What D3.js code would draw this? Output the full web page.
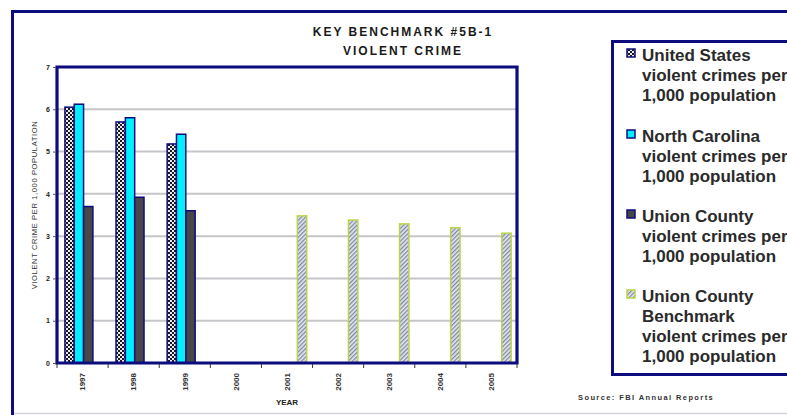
<!DOCTYPE html>
<html>
<head>
<meta charset="utf-8">
<script src="https://cdn.jsdelivr.net/npm/d3@7"></script>
<style>
  html, body { margin: 0; padding: 0; background: #fff; }
  svg { display: block; font-family: Arial, "Liberation Sans", sans-serif; }
</style>
</head>
<body>
<svg id="chart" width="787" height="415"></svg>
<script>
// ---------------- data ----------------
const years = ["1997", "1998", "1999", "2000", "2001", "2002", "2003", "2004", "2005"];
const usRate = [6.05, 5.70, 5.18, null, null, null, null, null, null];
const ncRate = [6.12, 5.80, 5.41, null, null, null, null, null, null];
const unionRate = [3.70, 3.92, 3.60, null, null, null, null, null, null];
const benchmarkRate = [null, null, null, null, 3.48, 3.38, 3.29, 3.20, 3.07];
const yTicks = [0, 1, 2, 3, 4, 5, 6, 7];
const seriesKeys = ["us", "nc", "union", "bench"];
const legendLabels = [
  ["United States", "violent crimes per", "1,000 population"],
  ["North Carolina", "violent crimes per", "1,000 population"],
  ["Union County", "violent crimes per", "1,000 population"],
  ["Union County", "Benchmark", "violent crimes per", "1,000 population"]
];
const titleLines = ["KEY BENCHMARK #5B-1", "VIOLENT CRIME"];
const yAxisTitle = "VIOLENT CRIME PER 1,000 POPULATION";
const xAxisTitle = "YEAR";
const sourceText = "Source:  FBI Annual Reports";

// ---------------- setup ----------------
const navy = "#0c0c7e";
const svg = d3.select("#chart");
const defs = svg.append("defs");

// checkered pattern (United States)
const pChk = defs.append("pattern").attr("id", "chk").attr("patternUnits", "userSpaceOnUse")
  .attr("width", 4).attr("height", 4);
pChk.append("rect").attr("width", 4).attr("height", 4).attr("fill", "#e8e8ee");
pChk.append("rect").attr("x", 0).attr("y", 0).attr("width", 2).attr("height", 2).attr("fill", "#1a1a1a");
pChk.append("rect").attr("x", 2).attr("y", 2).attr("width", 2).attr("height", 2).attr("fill", "#1a1a1a");

// diagonal hatch (Benchmark)
const pHatch = defs.append("pattern").attr("id", "hatch").attr("patternUnits", "userSpaceOnUse")
  .attr("width", 3).attr("height", 3).attr("patternTransform", "rotate(45)");
pHatch.append("rect").attr("width", 3).attr("height", 3).attr("fill", "#e6e8f0");
pHatch.append("rect").attr("width", 1.3).attr("height", 3).attr("fill", "#7f86a8");

const fills = { us: "url(#chk)", nc: "#00f0ff", union: "#474747", bench: "url(#hatch)" };
const strokes = { us: navy, nc: navy, union: navy, bench: "#b6d647" };
const values = { us: usRate, nc: ncRate, union: unionRate, bench: benchmarkRate };

// outer frame
svg.append("rect").attr("x", 12.5).attr("y", 11.5).attr("width", 820).attr("height", 440)
  .attr("fill", "none").attr("stroke", navy).attr("stroke-width", 3);
svg.append("line").attr("x1", 14).attr("x2", 787).attr("y1", 413.5).attr("y2", 413.5)
  .attr("stroke", "#d4d4de").attr("stroke-width", 1.5);

// plot scales
const plot = { left: 57, right: 517, top: 67, bottom: 363 };
const x0 = d3.scaleBand().domain(years).range([plot.left, plot.right]).padding(0);
const bw = x0.bandwidth();
const x1 = d3.scaleBand().domain(seriesKeys).range([bw * 0.155, bw * 0.885]).padding(0);
const y = d3.scaleLinear().domain([0, 7]).range([plot.bottom, plot.top]);

// gridlines
svg.append("g").selectAll("line").data(yTicks.filter(d => d > 0 && d < 7)).join("line")
  .attr("x1", plot.left).attr("x2", plot.right)
  .attr("y1", d => y(d)).attr("y2", d => y(d))
  .attr("stroke", "#c6c6ca").attr("stroke-width", 2);

// bars
const barData = [];
years.forEach((yr, i) => {
  seriesKeys.forEach(k => {
    const v = values[k][i];
    if (v != null) barData.push({ year: yr, key: k, value: v });
  });
});
svg.append("g").selectAll("rect").data(barData).join("rect")
  .attr("x", d => x0(d.year) + x1(d.key))
  .attr("y", d => y(d.value))
  .attr("width", x1.bandwidth())
  .attr("height", d => y(0) - y(d.value))
  .attr("fill", d => fills[d.key])
  .attr("stroke", d => strokes[d.key])
  .attr("stroke-width", 1.5);

// plot frame
svg.append("path")
  .attr("d", `M${plot.left},${plot.bottom} L${plot.left},${plot.top} L${plot.right},${plot.top} L${plot.right},${plot.bottom} Z`)
  .attr("fill", "none").attr("stroke", navy).attr("stroke-width", 3.2);

// y axis ticks/labels
const yAxis = d3.axisLeft(y).tickValues(yTicks).tickSize(3).tickFormat(d3.format("d"));
const gy = svg.append("g").attr("transform", `translate(${plot.left - 1},0)`).call(yAxis);
gy.select(".domain").remove();
gy.selectAll(".tick line").attr("stroke", "#555");
gy.selectAll(".tick text").attr("font-size", 7).attr("font-weight", "bold").attr("fill", "#222")
  .attr("font-family", "Arial, 'Liberation Sans', sans-serif").attr("x", -6);

// x axis boundary ticks
const boundaries = years.map(d => x0(d)).concat([plot.right]);
svg.append("g").selectAll("line").data(boundaries).join("line")
  .attr("x1", d => d).attr("x2", d => d)
  .attr("y1", plot.bottom + 1).attr("y2", plot.bottom + 5)
  .attr("stroke", "#333").attr("stroke-width", 1);

// x labels (rotated)
svg.append("g").selectAll("text").data(years).join("text")
  .attr("transform", d => `translate(${x0(d) + bw / 2},373) rotate(-90)`)
  .attr("text-anchor", "end").attr("dy", "0.35em")
  .attr("font-size", 8).attr("font-weight", "bold").attr("fill", "#333")
  .text(d => d);

// axis titles
svg.append("text").attr("x", 287).attr("y", 405).attr("text-anchor", "middle")
  .attr("font-size", 8).attr("font-weight", "bold").attr("fill", "#222").text(xAxisTitle);
svg.append("text").attr("transform", "translate(37,205) rotate(-90)")
  .attr("text-anchor", "middle").attr("font-size", 7.6).attr("fill", "#333")
  .attr("letter-spacing", 0.6).text(yAxisTitle);

// title
svg.append("g").selectAll("text").data(titleLines).join("text")
  .attr("x", 403).attr("y", (d, i) => 36 + i * 19)
  .attr("text-anchor", "middle").attr("font-size", 12).attr("font-weight", "bold")
  .attr("letter-spacing", 2).attr("fill", "#1a1a1a").text(d => d);

// legend box
svg.append("rect").attr("x", 612.5).attr("y", 41.5).attr("width", 300).attr("height", 333)
  .attr("fill", "#fff").attr("stroke", navy).attr("stroke-width", 3);
const legendTop = [61, 142, 222, 302];
const lg = svg.append("g").selectAll("g").data(seriesKeys).join("g")
  .attr("transform", (d, i) => `translate(0,${legendTop[i]})`);
lg.append("rect").attr("x", 627).attr("y", -12).attr("width", 8).attr("height", 8)
  .attr("fill", d => fills[d]).attr("stroke", d => d === "bench" ? strokes[d] : navy).attr("stroke-width", 1.5);
lg.each(function (d, i) {
  d3.select(this).selectAll("text").data(legendLabels[i]).join("text")
    .attr("x", 642).attr("y", (t, j) => j * 20)
    .attr("font-size", 17).attr("font-weight", "bold").attr("fill", "#2a2a2a")
    .text(t => t);
});

// source
svg.append("text").attr("x", 578).attr("y", 400).attr("font-size", 7.5).attr("font-weight", "bold")
  .attr("letter-spacing", 1.4).attr("fill", "#333").text(sourceText);
</script>
</body>
</html>
